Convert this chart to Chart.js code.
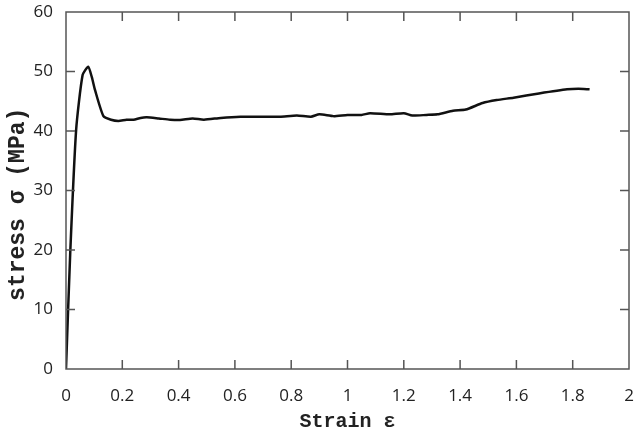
<!DOCTYPE html>
<html>
<head>
<meta charset="utf-8">
<script src="https://cdn.jsdelivr.net/npm/chart.js@4"></script>
<style>
  html, body { margin: 0; padding: 0; background: #fff; }
  #wrap { width: 634px; height: 432px; }
</style>
</head>
<body>
<div id="wrap"><canvas id="c" width="634" height="432"></canvas></div>
<script>
// values
const strain = [0, 0.015, 0.036, 0.059, 0.079, 0.092, 0.103, 0.133, 0.160, 0.186, 0.215, 0.24, 0.265, 0.287, 0.33, 0.37, 0.405,
  0.45, 0.49, 0.55, 0.62, 0.70, 0.76, 0.82, 0.87, 0.90, 0.95, 1.0, 1.05, 1.08, 1.15, 1.2, 1.23, 1.28, 1.32, 1.375,
  1.42, 1.48, 1.53, 1.59, 1.68, 1.78, 1.82, 1.86]
const stress = [0, 19.5, 40.2, 49.4, 50.8, 49.0, 46.9, 42.5, 41.9, 41.7, 41.9, 41.9, 42.2, 42.3, 42.1, 41.9, 41.85,
  42.1, 41.9, 42.2, 42.4, 42.4, 42.4, 42.6, 42.4, 42.8, 42.5, 42.7, 42.7, 43.0, 42.8, 43.0, 42.6, 42.7, 42.8, 43.4,
  43.6, 44.7, 45.2, 45.6, 46.3, 47.0, 47.1, 47.0]

const xTicks = [0, 0.2, 0.4, 0.6, 0.8, 1, 1.2, 1.4, 1.6, 1.8, 2]
const yTicks = [0, 10, 20, 30, 40, 50, 60]

const points = []
for (let i = 0; i < strain.length; i++) { points.push({x: strain[i], y: stress[i]}) }

const frameColor = "#555"
const tickFont = {family: "'Open Sans', 'DejaVu Sans', sans-serif", size: 17}

// box around plot + inward ticks on all four sides
const framePlugin = {
  id: "frame",
  afterDraw(chart) {
    const ctx = chart.ctx
    const a = chart.chartArea
    const xs = chart.scales.x
    const ys = chart.scales.y
    const len = 9
    ctx.save()
    ctx.strokeStyle = frameColor
    ctx.lineWidth = 1.5
    ctx.strokeRect(a.left, a.top, a.right - a.left, a.bottom - a.top)
    ctx.beginPath()
    for (let v of xTicks) {
      if (v == 0 || v == 2) continue
      let px = xs.getPixelForValue(v)
      ctx.moveTo(px, a.bottom); ctx.lineTo(px, a.bottom - len)
      ctx.moveTo(px, a.top); ctx.lineTo(px, a.top + len)
    }
    for (let v of yTicks) {
      if (v == 0 || v == 60) continue
      let py = ys.getPixelForValue(v)
      ctx.moveTo(a.left, py); ctx.lineTo(a.left + len, py)
      ctx.moveTo(a.right, py); ctx.lineTo(a.right - len, py)
    }
    ctx.stroke()
    ctx.restore()
  }
}

new Chart(document.getElementById("c").getContext("2d"), {
  type: "line",
  data: {
    datasets: [{
      data: points,
      borderColor: "#111",
      borderWidth: 2.5,
      pointRadius: 0,
      tension: 0.2,
      fill: false
    }]
  },
  options: {
    responsive: false,
    animation: false,
    layout: {padding: {top: 12, right: 5, left: 0, bottom: 0}},
    plugins: {legend: {display: false}, tooltip: {enabled: false}},
    scales: {
      x: {
        type: "linear", min: 0, max: 2,
        afterBuildTicks(s) { s.ticks = xTicks.map(v => ({value: v})) },
        afterFit(s) { s.height = 63; s.paddingLeft = 0; s.paddingRight = 0 },
        grid: {display: false, drawTicks: false},
        border: {display: false},
        ticks: {color: "#222", font: tickFont, padding: 17, maxRotation: 0,
          callback: v => String(v)},
        title: {display: true, text: "Strain ε", color: "#222", padding: {top: 2, bottom: -2},
          font: {family: "'Liberation Mono', 'Courier New', monospace", size: 20, weight: "bold"}}
      },
      y: {
        min: 0, max: 60,
        afterBuildTicks(s) { s.ticks = yTicks.map(v => ({value: v})) },
        afterFit(s) { s.width = 66; s.paddingTop = 0; s.paddingBottom = 0 },
        grid: {display: false, drawTicks: false},
        border: {display: false},
        ticks: {color: "#222", font: tickFont, padding: 13},
        title: {display: true, text: "stress σ (MPa)  ", color: "#222", padding: {bottom: 0},
          font: {family: "'Liberation Mono', 'Courier New', monospace", size: 23, weight: "bold"}}
      }
    }
  },
  plugins: [framePlugin]
})
</script>
</body>
</html>
